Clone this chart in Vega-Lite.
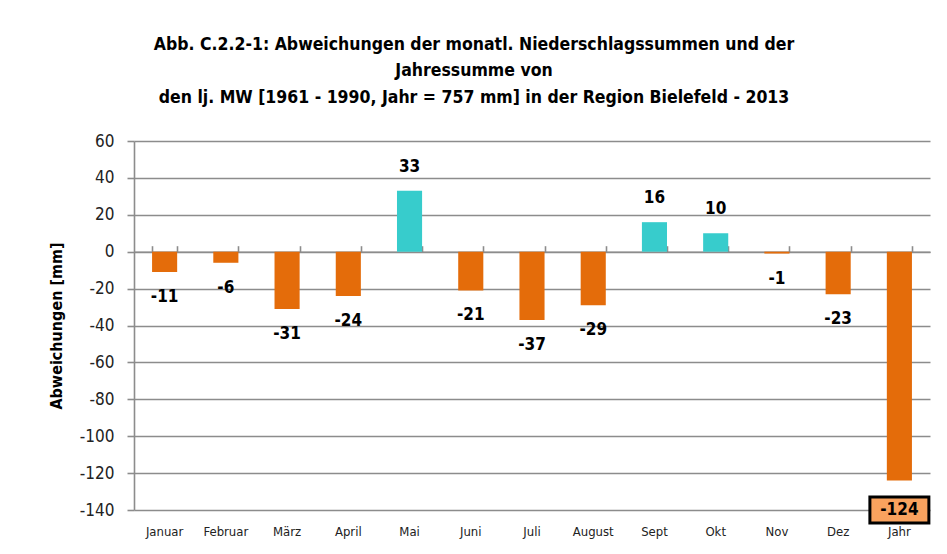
{
  "$schema": "https://vega.github.io/schema/vega-lite/v6.json",
  "autosize": "none",
  "width": 796,
  "height": 369,
  "padding": {"left": 134, "top": 141, "right": 17, "bottom": 44},
  "background": "white",
  "config": {"view": {"stroke": null}, "font": "DejaVu Sans Condensed, Liberation Sans, sans-serif"},
  "title": {
    "text": ["Abb. C.2.2-1:  Abweichungen der monatl. Niederschlagssummen und der", "Jahressumme von", "den lj. MW [1961 - 1990, Jahr = 757 mm] in der Region Bielefeld - 2013"],
    "anchor": "middle",
    "frame": "group",
    "dx": -58,
    "offset": 26,
    "fontSize": 17.5,
    "fontWeight": "bold",
    "lineHeight": 26.5,
    "color": "black",
    "font": "DejaVu Sans Condensed, Liberation Sans, sans-serif"
  },
  "data": {"values": [
    {"Monat": "Januar", "Wert": -11},
    {"Monat": "Februar", "Wert": -6},
    {"Monat": "März", "Wert": -31},
    {"Monat": "April", "Wert": -24},
    {"Monat": "Mai", "Wert": 33},
    {"Monat": "Juni", "Wert": -21},
    {"Monat": "Juli", "Wert": -37},
    {"Monat": "August", "Wert": -29},
    {"Monat": "Sept", "Wert": 16},
    {"Monat": "Okt", "Wert": 10},
    {"Monat": "Nov", "Wert": -1},
    {"Monat": "Dez", "Wert": -23},
    {"Monat": "Jahr", "Wert": -124}
  ]},
  "resolve": {"axis": {"x": "independent", "y": "independent"}},
  "layer": [
    {
      "mark": {"type": "bar"},
      "encoding": {
        "x": {"field": "Monat", "type": "nominal", "sort": null,
          "scale": {"paddingInner": 0.59, "paddingOuter": 0.295},
          "axis": {"title": null, "orient": "bottom", "domain": false, "ticks": false, "labelAngle": 0, "labelFontSize": 13, "labelColor": "#222", "labelPadding": 15}},
        "y": {"field": "Wert", "type": "quantitative",
          "scale": {"domain": [-140, 60], "nice": false, "zero": false},
          "axis": {"title": "Abweichungen [mm]", "orient": "left", "titleFontSize": 16, "titleFontWeight": "bold", "titleColor": "black", "titlePadding": 15,
            "values": [-140, -120, -100, -80, -60, -40, -20, 0, 20, 40, 60], "format": "d", "labelExpr": "replace(datum.label, '−', '-')",
            "labelOverlap": false, "labelFontSize": 17, "labelColor": "#222", "labelPadding": 13,
            "grid": true, "gridColor": "#8c8c8c", "gridWidth": 1.6,
            "domainColor": "#8c8c8c", "domainWidth": 1.6, "tickColor": "#8c8c8c", "tickWidth": 1.6, "tickSize": 7}},
        "color": {"condition": {"test": "datum.Wert > 0", "value": "#37CCCC"}, "value": "#E46C0A"}
      }
    },
    {
      "mark": {"type": "rule", "opacity": 0},
      "encoding": {
        "x": {"field": "Monat", "type": "nominal", "sort": null,
          "axis": {"title": null, "orient": "top", "offset": -110.7, "labels": false, "domain": true, "domainColor": "#8c8c8c", "domainWidth": 1.6, "ticks": true, "tickBand": "extent", "tickSize": 6, "tickColor": "#8c8c8c", "tickWidth": 1.6}}
      }
    },
    {
      "transform": [{"filter": "datum.Wert < 0 && datum.Monat != 'Jahr'"}],
      "mark": {"type": "text", "fontSize": 17, "fontWeight": "bold", "color": "black", "dy": 25, "baseline": "middle"},
      "encoding": {
        "x": {"field": "Monat", "type": "nominal", "sort": null, "axis": null},
        "y": {"field": "Wert", "type": "quantitative", "axis": null},
        "text": {"field": "Wert", "type": "nominal"}
      }
    },
    {
      "transform": [{"filter": "datum.Wert > 0"}],
      "mark": {"type": "text", "fontSize": 17, "fontWeight": "bold", "color": "black", "dy": -24, "baseline": "middle"},
      "encoding": {
        "x": {"field": "Monat", "type": "nominal", "sort": null, "axis": null},
        "y": {"field": "Wert", "type": "quantitative", "axis": null},
        "text": {"field": "Wert", "type": "nominal"}
      }
    },
    {
      "transform": [{"filter": "datum.Monat == 'Jahr'"}],
      "mark": {"type": "bar", "color": "#F9A25E", "stroke": "black", "strokeWidth": 3, "width": {"band": 2.35}},
      "encoding": {
        "x": {"field": "Monat", "type": "nominal", "sort": null, "axis": null},
        "y": {"datum": -133, "axis": null},
        "y2": {"datum": -147}
      }
    },
    {
      "transform": [{"filter": "datum.Monat == 'Jahr'"}],
      "mark": {"type": "text", "fontSize": 17, "fontWeight": "bold", "color": "black", "baseline": "middle"},
      "encoding": {
        "x": {"field": "Monat", "type": "nominal", "sort": null, "axis": null},
        "y": {"datum": -140, "axis": null},
        "text": {"field": "Wert", "type": "nominal"}
      }
    }
  ]
}
